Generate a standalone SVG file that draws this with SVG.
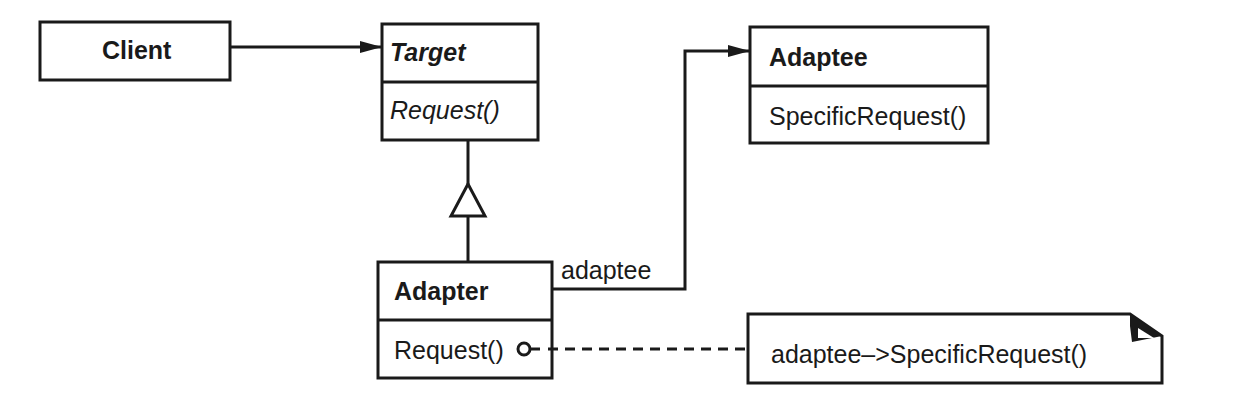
<svg xmlns="http://www.w3.org/2000/svg" width="1240" height="417" viewBox="0 0 1240 417">
<style>
.box{fill:#fff;stroke:#1a1a1a;stroke-width:3}
.ln{fill:none;stroke:#1a1a1a;stroke-width:3}
text{font-family:"Liberation Sans",Arial,sans-serif;font-size:25px;fill:#1a1a1a}
.b{font-weight:bold}
.i{font-style:italic}
</style>
<defs>
<marker id="arr" markerWidth="22" markerHeight="14" refX="22" refY="7" orient="auto" markerUnits="userSpaceOnUse">
<path d="M0,1 L22,7 L0,13 Z" fill="#1a1a1a"/>
</marker>
</defs>
<rect width="1240" height="417" fill="#fff"/>
<g id="client">
<rect class="box" x="40" y="22" width="190" height="58"/>
<text class="b" x="102" y="59">Client</text>
</g>
<g id="target">
<rect class="box" x="382" y="24" width="156" height="116"/>
<line class="ln" x1="382" y1="82" x2="538" y2="82"/>
<text class="b i" x="390" y="61">Target</text>
<text class="i" x="390" y="119">Request()</text>
</g>
<g id="adaptee">
<rect class="box" x="750" y="27" width="238" height="116"/>
<line class="ln" x1="750" y1="86" x2="988" y2="86"/>
<text class="b" x="769" y="66">Adaptee</text>
<text x="769" y="125">SpecificRequest()</text>
</g>
<g id="adapter">
<rect class="box" x="378" y="262" width="174" height="116"/>
<line class="ln" x1="378" y1="320" x2="552" y2="320"/>
<text class="b" x="394" y="300">Adapter</text>
<text x="394" y="359">Request()</text>
</g>
<g id="note">
<path class="box" d="M748,314 H1130 L1162,336 V383 H748 Z"/>
<path d="M1130,314 L1162,336 L1132,342 L1130,326 Z" fill="#1a1a1a"/>
<path d="M1138,328 L1138,338 L1154,338 Z" fill="#fff"/>
<text x="771" y="363">adaptee–&gt;SpecificRequest()</text>
</g>
<g id="connectors">
<path class="ln" d="M230,47 H382" marker-end="url(#arr)"/>
<path class="ln" d="M468,140 V184 M468,216 V262"/>
<path d="M468,184 L485,216 L451,216 Z" fill="#fff" stroke="#1a1a1a" stroke-width="3"/>
<path class="ln" d="M552,289 H685 V51 H750" marker-end="url(#arr)"/>
<circle cx="524" cy="349" r="6" fill="#fff" stroke="#1a1a1a" stroke-width="3"/>
<path class="ln" d="M530,349 H540"/>
<path class="ln" d="M548,349 H748" stroke-dasharray="10,7"/>
<text x="561" y="279">adaptee</text>
</g>
</svg>
